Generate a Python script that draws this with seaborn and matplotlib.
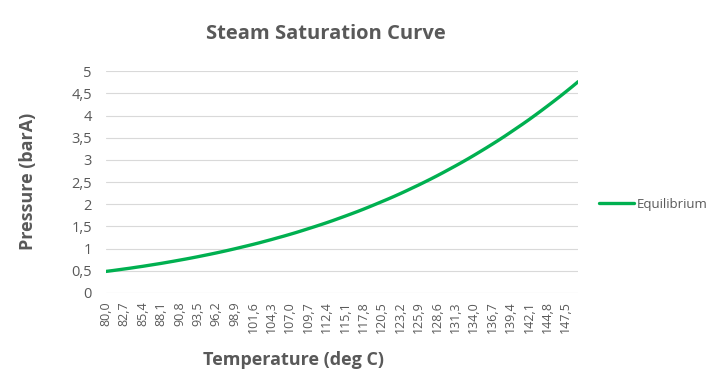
import pandas as pd
import numpy as np
import matplotlib
matplotlib.use("Agg")
import matplotlib.pyplot as plt
import seaborn as sns

temps = [80.0, 80.9, 81.8, 82.7, 83.6, 84.5, 85.4, 86.3, 87.2, 88.1, 89.0, 89.9,
         90.8, 91.7, 92.6, 93.5, 94.4, 95.3, 96.2, 97.1, 98.0, 98.9, 99.8, 100.7,
         101.6, 102.5, 103.4, 104.3, 105.2, 106.1, 107.0, 107.9, 108.8, 109.7, 110.6,
         111.5, 112.4, 113.3, 114.2, 115.1, 116.0, 116.9, 117.8, 118.7, 119.6, 120.5,
         121.4, 122.3, 123.2, 124.1, 125.0, 125.9, 126.8, 127.7, 128.6, 129.5, 130.4,
         131.3, 132.2, 133.1, 134.0, 134.9, 135.8, 136.7, 137.6, 138.5, 139.4, 140.3,
         141.2, 142.1, 143.0, 143.9, 144.8, 145.7, 146.6, 147.5, 148.4, 149.3]

pressure = [0.484, 0.501, 0.520, 0.539, 0.558, 0.579, 0.599, 0.621, 0.643, 0.665,
            0.689, 0.713, 0.738, 0.763, 0.789, 0.816, 0.844, 0.872, 0.901, 0.931,
            0.962, 0.994, 1.027, 1.060, 1.094, 1.129, 1.166, 1.203, 1.242, 1.280,
            1.320, 1.361, 1.404, 1.448, 1.492, 1.537, 1.583, 1.631, 1.681, 1.731,
            1.782, 1.834, 1.888, 1.944, 2.001, 2.059, 2.117, 2.177, 2.239, 2.303,
            2.369, 2.434, 2.502, 2.571, 2.642, 2.715, 2.790, 2.865, 2.942, 3.021,
            3.102, 3.185, 3.269, 3.355, 3.442, 3.532, 3.625, 3.719, 3.813, 3.910,
            4.010, 4.112, 4.216, 4.321, 4.428, 4.538, 4.650, 4.765]

series_name = "Equilibrium"
yticks = [0, 0.5, 1, 1.5, 2, 2.5, 3, 3.5, 4, 4.5, 5]

df = pd.DataFrame({"temp": temps, "pressure": pressure, "series": series_name})

sns.set_style("white")
plt.rcParams["font.family"] = ["Open Sans", "DejaVu Sans"]
grey = "#595959"

fig = plt.figure(figsize=(7.2, 3.75), dpi=100)
ax = fig.add_axes([0.147, 0.219, 0.656, 0.591])

sns.lineplot(data=df, x="temp", y="pressure", hue="series",
             palette=["#00B050"], linewidth=2.4, ax=ax)

ax.set_xlim(temps[0], temps[-1])
ax.set_ylim(0, 5)
ax.set_yticks(yticks)
ax.set_yticklabels([f"{v:g}".replace(".", ",") for v in yticks],
                   color=grey, fontsize=10.5)
ax.set_xticks(temps[::3])
ax.set_xticklabels([f"{t:.1f}".replace(".", ",") for t in temps[::3]],
                   rotation=90, color=grey, fontsize=9)
ax.tick_params(axis="x", length=0, pad=6)
ax.tick_params(axis="y", length=0, pad=10)
ax.grid(axis="y", color="#d9d9d9", linewidth=0.8)
for s in ax.spines.values():
    s.set_visible(False)

ax.set_xlabel("")
ax.set_ylabel("")
fig.text(0.407, 0.04, "Temperature (deg C)", ha="center", va="center",
         fontsize=13, fontweight="bold", color=grey)
fig.text(0.039, 0.515, "Pressure (barA)", ha="center", va="center", rotation=90,
         fontsize=13, fontweight="bold", color=grey)

fig.suptitle("Steam Saturation Curve", x=0.452, y=0.935, fontsize=14.5,
             fontweight="bold", color=grey)

leg = ax.legend(loc="center left", bbox_to_anchor=(1.02, 0.4), frameon=False,
                fontsize=9.5, handlelength=2.6, handletextpad=0.2)
for t in leg.get_texts():
    t.set_color(grey)

fig.savefig("out.png", dpi=100)
